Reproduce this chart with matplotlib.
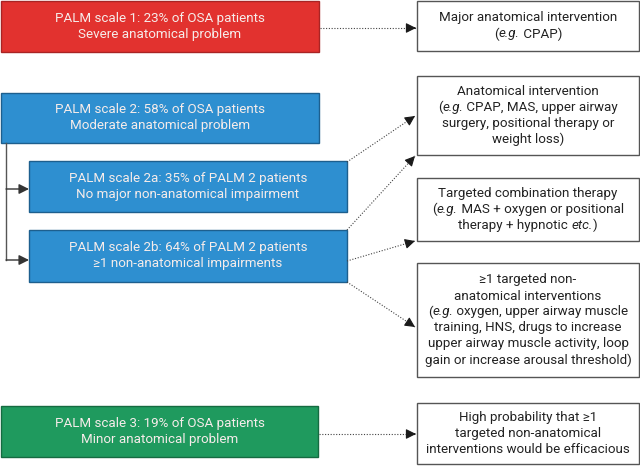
import matplotlib
matplotlib.use("Agg")
import matplotlib.pyplot as plt
from matplotlib.patches import Rectangle

plt.rcParams['font.family'] = ['Roboto', 'DejaVu Sans']

# left column: PALM categories
palm_labels = [
    ["PALM scale 1: 23% of OSA patients", "Severe anatomical problem"],
    ["PALM scale 2: 58% of OSA patients", "Moderate anatomical problem"],
    ["PALM scale 2a: 35% of PALM 2 patients", "No major non-anatomical impairment"],
    ["PALM scale 2b: 64% of PALM 2 patients", "\u22651 non-anatomical impairments"],
    ["PALM scale 3: 19% of OSA patients", "Minor anatomical problem"],
]
palm_colors = ["#e2322f", "#2e8fd0", "#2e8fd0", "#2e8fd0", "#1f9a5e"]
palm_edges = ["#a92424", "#1d5f8e", "#1d5f8e", "#1d5f8e", "#156b41"]
# x0, y0, x1, y1 in pixels
palm_boxes = [(1, 1, 319, 52), (1, 93, 319, 143), (29, 161, 347, 212),
              (29, 230, 347, 282), (1, 406, 318, 457)]

# right column: interventions, each line is list of (text, italic)
treat_lines = [
    [[("Major anatomical intervention", False)],
     [("(", False), ("e.g.", True), (" CPAP)", False)]],
    [[("Anatomical intervention", False)],
     [("(", False), ("e.g.", True), (" CPAP, MAS, upper airway", False)],
     [("surgery, positional therapy or", False)],
     [("weight loss)", False)]],
    [[("Targeted combination therapy", False)],
     [("(", False), ("e.g.", True), (" MAS + oxygen or positional", False)],
     [("therapy + hypnotic ", False), ("etc.", True), (")", False)]],
    [[("\u22651 targeted non-", False)],
     [("anatomical interventions", False)],
     [("(", False), ("e.g.", True), (" oxygen, upper airway muscle", False)],
     [("training, HNS, drugs to increase", False)],
     [("upper airway muscle activity, loop", False)],
     [("gain or increase arousal threshold)", False)]],
    [[("High probability that \u22651", False)],
     [("targeted non-anatomical", False)],
     [("interventions would be efficacious", False)]],
]
treat_boxes = [(417, 1, 639, 51), (417, 76, 639, 155), (417, 178, 639, 241),
               (417, 263, 639, 377), (417, 403, 639, 464)]

# dotted arrows: (start, end)
links = [((320, 28), (416, 28)), ((347, 162), (415, 116)), ((347, 230), (415, 156)),
         ((347, 261), (415, 241)), ((347, 282), (415, 327)), ((319, 434), (416, 434))]

fig = plt.figure(figsize=(6.4, 4.66), dpi=100)
ax = fig.add_axes([0, 0, 1, 1])
ax.set_xlim(0, 640)
ax.set_ylim(466, 0)
ax.axis('off')

FS = 9.6
LH = 16

for (x0, y0, x1, y1), lines, fc, ec in zip(palm_boxes, palm_labels, palm_colors, palm_edges):
    ax.add_patch(Rectangle((x0, y0), x1 - x0, y1 - y0, facecolor=fc, edgecolor=ec, lw=1))
    cy = (y0 + y1) / 2
    for i, line in enumerate(lines):
        ax.text((x0 + x1) / 2, cy + (i - 0.5) * LH, line, ha='center', va='center',
                fontsize=FS, color='#f6ecea')

renderer = fig.canvas.get_renderer()


def seg_width(s, italic):
    style = 'italic' if italic else 'normal'
    t1 = ax.text(0, 0, "|" + s + "|", fontsize=FS, style=style)
    t2 = ax.text(0, 0, "||", fontsize=FS, style=style)
    w = t1.get_window_extent(renderer).width - t2.get_window_extent(renderer).width
    t1.remove()
    t2.remove()
    return w


for (x0, y0, x1, y1), lines in zip(treat_boxes, treat_lines):
    ax.add_patch(Rectangle((x0, y0), x1 - x0, y1 - y0, facecolor='white',
                           edgecolor='#555555', lw=1))
    cy = (y0 + y1) / 2
    n = len(lines)
    for i, segs in enumerate(lines):
        y = cy + (i - (n - 1) / 2) * LH
        widths = [seg_width(s, it) for s, it in segs]
        x = (x0 + x1) / 2 - sum(widths) / 2
        for (s, it), w in zip(segs, widths):
            ax.text(x, y, s, ha='left', va='center', fontsize=FS, color='#222222',
                    style='italic' if it else 'normal')
            x += w

for (xa, ya), (xb, yb) in links:
    ax.plot([xa, xb], [ya, yb], color='#444444', lw=0.8, ls=(0, (1, 1.5)))
    dx, dy = xb - xa, yb - ya
    L = (dx ** 2 + dy ** 2) ** 0.5
    ax.annotate("", xy=(xb, yb), xytext=(xb - dx / L * 2, yb - dy / L * 2),
                arrowprops=dict(arrowstyle='-|>,head_length=0.6,head_width=0.3',
                                color='#1a1a1a', lw=0.8, shrinkA=0, shrinkB=0))

# bracket from PALM 2 to 2a / 2b
ax.plot([6, 6], [143, 260], color='#555555', lw=1)
for yy in (189, 260):
    ax.annotate("", xy=(29, yy), xytext=(6, yy),
                arrowprops=dict(arrowstyle='-|>,head_length=0.6,head_width=0.3',
                                color='#333333', lw=1, shrinkA=0, shrinkB=0))

fig.savefig("out.png", dpi=100)
